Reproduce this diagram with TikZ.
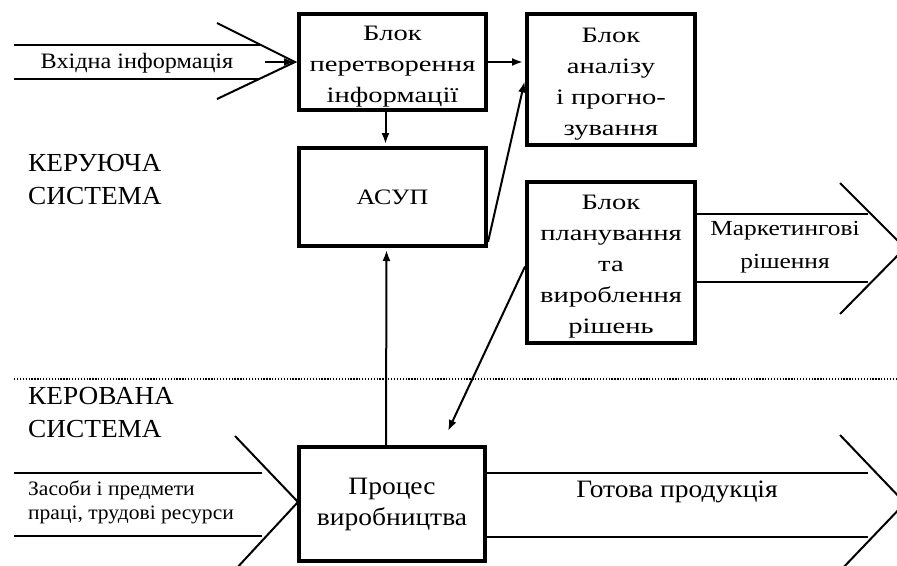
\documentclass[tikz,border=0pt]{standalone}
\usepackage{fontspec}
\setmainfont{Liberation Serif}
% horizontally widened cuts of the text face
\newfontfamily\serifwideA[FakeStretch=1.05]{Liberation Serif}
\newfontfamily\serifwideB[FakeStretch=1.1]{Liberation Serif}
\newfontfamily\serifwideC[FakeStretch=1.18]{Liberation Serif}
\newfontfamily\serifwideD[FakeStretch=1.3]{Liberation Serif}
% extra room above the first line of a block caption
\newcommand\capgap{\rule{0pt}{23pt}}
\usetikzlibrary{arrows.meta}
\begin{document}
\begin{tikzpicture}[x=1pt,y=-1pt,
  box/.style={draw, line width=4pt, align=center, inner sep=0pt,
    font=\serifwideD\fontsize{22}{31}\selectfont},
  lbl/.style={inner sep=0pt, font=\serifwideB\fontsize{22}{31}\selectfont},
  small/.style={inner sep=0pt, font=\serifwideA\fontsize{20.5}{24}\selectfont},
  big/.style={inner sep=0pt, font=\serifwideA\fontsize{26}{33}\selectfont},
  conn/.style={line width=2pt},
  arr/.style={conn, -{Latex[length=11pt,width=8pt]}, shorten >=2pt},
  chev/.style={line width=2pt},
  dotline/.style={line width=1.3pt, dash pattern=on 1.3pt off 1.6pt}]
\useasboundingbox (0,0) rectangle (897,565);
\clip (0,0) rectangle (897,565);

% blocks of the control system
\node[box, minimum width=187pt, minimum height=96pt] (b1) at (392.5,62)
  {\capgap Блок\\перетворення\\інформації};
\node[box, minimum width=168pt, minimum height=131pt] (b2) at (611,79.5)
  {\capgap Блок\\аналізу\\і прогно-\\зування};
\node[box, font=\serifwideC\fontsize{22}{31}\selectfont,
  minimum width=187pt, minimum height=98pt] (asup) at (392.5,197) {АСУП};
\node[box, minimum width=168pt, minimum height=161pt] (b3) at (611,262.5)
  {\capgap Блок\\планування\\та\\вироблення\\рішень};
% controlled system
\node[box, font=\serifwideB\fontsize{25}{31}\selectfont, minimum width=186pt,
  minimum height=114pt] (pr) at (392,504) {Процес\\виробництва};

% system titles
\node[big, align=left, anchor=west] (ctrl) at (28,180) {КЕРУЮЧА\\СИСТЕМА};
\node[big, align=left, anchor=west] (obj) at (28,413) {КЕРОВАНА\\СИСТЕМА};
\draw[dotline] (14,379) -- (897,379);

% input information flow
\draw[chev] (14,45) -- (260,45) (14,79) -- (260,79);
\draw[chev] (217,23) -- (295,62) -- (217,99);
\node[lbl, anchor=base] (inlbl) at (137,68) {Вхідна інформація};
\coordinate (intip) at (265,62);
\draw[arr] (intip) -- (b1.west);

% links between blocks
\draw[arr] (b1.east) -- (b1.east -| b2.west);
\draw[arr] ([xshift=-7pt]b1.south) -- ([xshift=-7pt]asup.north);
\draw[arr] ([yshift=6pt]asup.south east) -- (b2.west);
\draw[arr, shorten >=0pt] ([yshift=-4pt]b3.west) -- ([xshift=56pt,yshift=14pt]pr.north);
\draw[arr] ([xshift=-6pt]pr.north) -- ([xshift=-6pt]asup.south);

% marketing decisions
\draw[chev] (b3.east |- 0,214) -- (868,214) (b3.east |- 0,282) -- (868,282);
\draw[chev] (840,183) -- (905,248) -- (840,314);
\node[lbl, align=center, font=\serifwideC\fontsize{21.5}{33}\selectfont] (mk) at (785,247)
  {Маркетингові\\рішення};

% resources entering production
\draw[chev] (14,473) -- (262,473) (14,536) -- (262,536);
\draw[chev] (235,436) -- (298,502) -- (235,570);
\node[small, align=left, anchor=west] (res) at (28,502)
  {Засоби і предмети\\праці, трудові ресурси};

% finished products
\draw[chev] (pr.east |- 0,473) -- (868,473) (pr.east |- 0,537) -- (868,537);
\draw[chev] (840,435) -- (905,503) -- (840,571);
\node[lbl, anchor=base, font=\serifwideB\fontsize{25}{31}\selectfont] (out) at (677,497)
  {Готова продукція};
\end{tikzpicture}
\end{document}
